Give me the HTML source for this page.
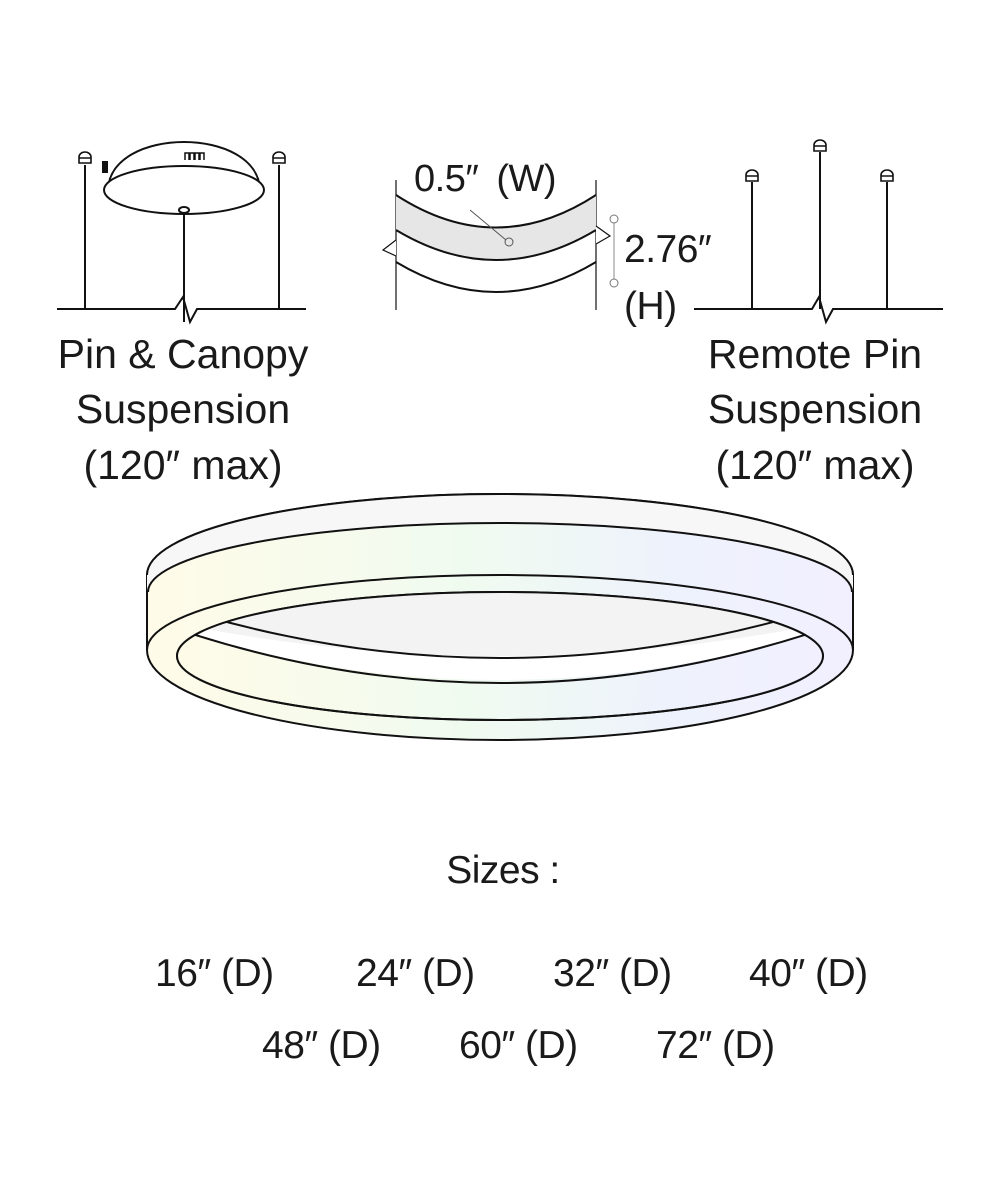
<!DOCTYPE html>
<html><head><style>
body{margin:0;background:#fff;width:1000px;height:1200px;overflow:hidden;position:relative;font-family:"Liberation Sans",sans-serif;color:#1a1a1a}
.t{position:absolute;font-size:37px;white-space:nowrap;text-align:center;letter-spacing:-0.5px}
.l{font-size:41px;letter-spacing:0}
.s{font-size:39px}
</style></head><body>
<svg width="1000" height="1200" style="position:absolute;left:0;top:0" fill="none" stroke="#111" stroke-width="2">
<!-- left suspension -->
<path d="M57 309 H175 L183 297 L190 322 L197 309 H306"/>
<line x1="85" y1="165" x2="85" y2="309"/><line x1="279" y1="165" x2="279" y2="309"/>
<path d="M79 163 v-6 a6 5 0 0 1 12 0 v6 z M79 158 h12" fill="#fff" stroke-width="1.6"/>
<path d="M273 163 v-6 a6 5 0 0 1 12 0 v6 z M273 158 h12" fill="#fff" stroke-width="1.6"/>
<path d="M108 190 C110 126 258 126 260 190" fill="#fff"/>
<ellipse cx="184" cy="190" rx="80" ry="24" fill="#fff"/>
<path d="M185 160 v-7 h4 v7 M190 160 v-7 h4 v7 M195 160 v-7 h4 v7 M200 160 v-7 h4 v7" stroke-width="1.5"/>
<rect x="103" y="162" width="4" height="10" fill="#111"/>
<line x1="184" y1="212" x2="184" y2="322"/><ellipse cx="184" cy="210" rx="5" ry="3" fill="#fff"/>
<!-- right suspension -->
<path d="M694 309 H812 L819 297 L826 322 L833 309 H943"/>
<line x1="752" y1="182" x2="752" y2="309"/><line x1="820" y1="152" x2="820" y2="309"/><line x1="887" y1="182" x2="887" y2="309"/>
<path d="M746 181 v-6 a6 5 0 0 1 12 0 v6 z M746 176 h12" fill="#fff" stroke-width="1.6"/>
<path d="M814 151 v-6 a6 5 0 0 1 12 0 v6 z M814 146 h12" fill="#fff" stroke-width="1.6"/>
<path d="M881 181 v-6 a6 5 0 0 1 12 0 v6 z M881 176 h12" fill="#fff" stroke-width="1.6"/>
<!-- profile -->
<line x1="396" y1="180" x2="396" y2="310" stroke-width="1.2"/><line x1="596" y1="180" x2="596" y2="310" stroke-width="1.2"/>
<path d="M396 195 Q496 260 596 195 V230 Q496 290 396 230 Z" fill="#e6e6e6" stroke="none"/>
<path d="M396 195 Q496 260 596 195"/><path d="M396 230 Q496 290 596 230"/>
<path d="M396 262 Q496 322 596 262" fill="#fff"/>
<path d="M396 240 L383 250 L396 256" fill="#fff" stroke-width="1.2"/>
<path d="M596 226 L610 236 L596 244" fill="#fff" stroke-width="1.2"/>
<line x1="470" y1="210" x2="506" y2="240" stroke="#555" stroke-width="1"/>
<circle cx="509" cy="242" r="4" fill="#e6e6e6" stroke="#555" stroke-width="1"/>
<line x1="614" y1="220" x2="614" y2="282" stroke="#888" stroke-width="1"/>
<circle cx="614" cy="219" r="4" fill="#fff" stroke="#777" stroke-width="1"/><circle cx="614" cy="283" r="4" fill="#fff" stroke="#777" stroke-width="1"/>
<!-- ring -->
<defs><linearGradient id="g" x1="0" x2="1"><stop offset="0" stop-color="#fffbe8"/><stop offset="0.45" stop-color="#f0fbf0"/><stop offset="0.75" stop-color="#eef2fc"/><stop offset="1" stop-color="#f2f0ff"/></linearGradient>
<clipPath id="cb"><ellipse cx="500" cy="656" rx="323" ry="64"/></clipPath></defs>
<path d="M147 575 A353 81 0 0 1 853 575 V650 A353 90 0 0 1 147 650 Z" fill="url(#g)"/>
<path d="M147 575 A353 81 0 0 1 853 575 L853 592 A352 69 0 0 0 147 592 Z" fill="#f7f7f7" stroke="none"/>
<path d="M147 575 A353 81 0 0 1 853 575"/>
<path d="M148 592 A352 69 0 0 1 852 592"/>
<path d="M147 650 A353 75 0 0 1 853 650"/>
<ellipse cx="500" cy="656" rx="323" ry="64" fill="url(#g)"/>
<path d="M170 560 H830 V700 L500 683 Q300 680 170 630 Z" fill="#fff" stroke="none" clip-path="url(#cb)"/>
<path d="M193 635 Q500 725 807 635 L830 635 V700 H170 V635 Z" fill="url(#g)" stroke="none" clip-path="url(#cb)"/>
<path d="M170 560 H830 V622 Q500 690 170 622 Z" fill="#f3f3f3" stroke="none" clip-path="url(#cb)"/>
<path d="M205 616 Q500 700 795 616" clip-path="url(#cb)"/>
<path d="M180 630 Q500 736 820 630" clip-path="url(#cb)"/>
<ellipse cx="500" cy="656" rx="323" ry="64"/>
</svg>
<div class="t l" style="left:20px;width:326px;top:331px">Pin &amp; Canopy</div>
<div class="t l" style="left:20px;width:326px;top:386px">Suspension</div>
<div class="t l" style="left:20px;width:326px;top:442px">(120″ max)</div>
<div class="t l" style="left:652px;width:326px;top:331px">Remote Pin</div>
<div class="t l" style="left:652px;width:326px;top:386px">Suspension</div>
<div class="t l" style="left:652px;width:326px;top:442px">(120″ max)</div>
<div class="t" style="left:414px;top:158px;font-size:38px;word-spacing:8px">0.5″ (W)</div>
<div class="t" style="left:624px;top:228px;font-size:39px">2.76″</div>
<div class="t" style="left:624px;top:285px;font-size:39px">(H)</div>
<div class="t s" style="left:400px;width:206px;top:849px">Sizes :</div>
<div class="t s" style="left:155px;top:952px">16″ (D)</div>
<div class="t s" style="left:356px;top:952px">24″ (D)</div>
<div class="t s" style="left:553px;top:952px">32″ (D)</div>
<div class="t s" style="left:749px;top:952px">40″ (D)</div>
<div class="t s" style="left:262px;top:1024px">48″ (D)</div>
<div class="t s" style="left:459px;top:1024px">60″ (D)</div>
<div class="t s" style="left:656px;top:1024px">72″ (D)</div>
</body></html>
